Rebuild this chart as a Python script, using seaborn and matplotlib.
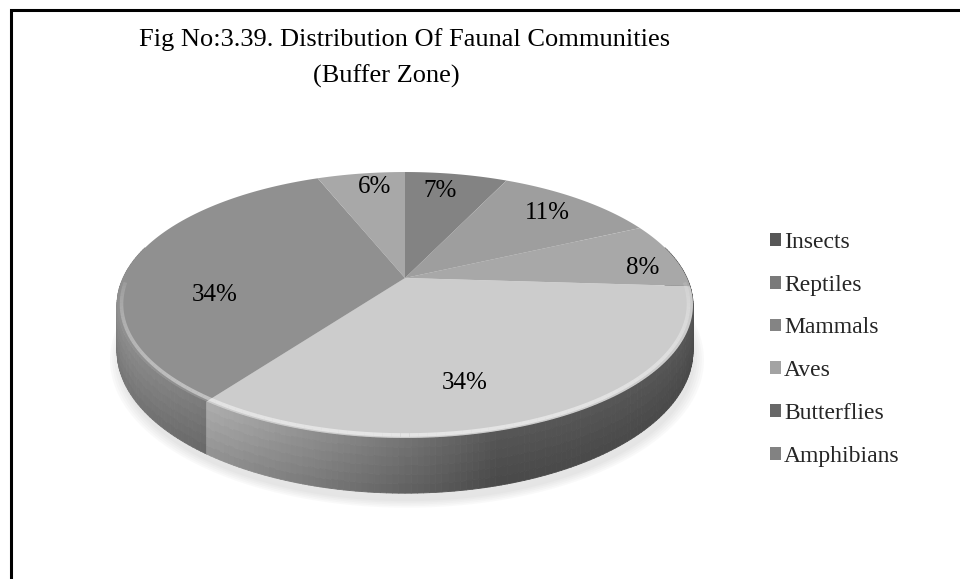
import numpy as np
import matplotlib
matplotlib.use("Agg")
import matplotlib.pyplot as plt
import matplotlib.colors as mcolors
import seaborn as sns
from matplotlib.transforms import Transform
from matplotlib.path import Path
from matplotlib.patches import Patch
from matplotlib.collections import PolyCollection, LineCollection

# ---- data -------------------------------------------------------------
categories = ["Insects", "Reptiles", "Mammals", "Aves", "Butterflies", "Amphibians"]
shares = [7, 11, 8, 34, 34, 6]
pct_labels = [f"{s}%" for s in shares]

# ---- styling ----------------------------------------------------------
top_colors = ["#838383", "#9e9e9e", "#a8a8a8", "#cccccc", "#909090", "#a8a8a8"]
swatch_colors = ["#575757", "#7a7a7a", "#848484", "#a3a3a3", "#686868", "#828282"]
# label placement: angular nudge (deg, clockwise) and radius on the disc
label_nudge = [-2.3, -0.4, 5.5, 10.9, -18.2, 2.3]
label_radius = [0.81, 0.80, 0.86, 0.73, 0.67, 0.84]

W, H = 960, 579
CX, CY = 405.0, 278.0          # disc centre in pixels
RX, RY, PERSP = 282.0, 127.5, 0.203
THICK = 44.0                   # side wall height


class DiscView(Transform):
    """Tilted, perspective view of the unit pie disc onto pixel coordinates."""
    input_dims = output_dims = 2
    is_separable = False
    has_inverse = False

    def __init__(self, drop=0.0):
        super().__init__()
        self.drop = drop

    def transform_non_affine(self, values):
        v = np.asarray(values, dtype=float).reshape(-1, 2)
        d = 1.0 + PERSP * v[:, 1]
        return np.column_stack([CX + RX * v[:, 0] / d,
                                CY + (-RY * v[:, 1] + self.drop) / d])

    def transform_path_non_affine(self, path):
        pts = [seg(np.linspace(0, 1, 24)) for seg, _ in path.iter_bezier()]
        pts = np.concatenate(pts)
        return Path(self.transform_non_affine(pts), closed=True)


sns.set_theme(style="white")
plt.rcParams["font.family"] = ["Liberation Serif", "DejaVu Serif"]

fig = plt.figure(figsize=(W / 100, H / 100), dpi=100)
ax = fig.add_axes([0, 0, 1, 1])

wedges, _ = ax.pie(shares, colors=top_colors, startangle=90, counterclock=False,
                   radius=1.0, wedgeprops=dict(linewidth=0))

ax.set_aspect("auto")
ax.set_xlim(0, W)
ax.set_ylim(H, 0)
ax.axis("off")

top_view = DiscView(0.0)
for w in wedges:
    w.set_transform(top_view + ax.transData)
    w.set_zorder(3)
    w.set_clip_on(False)

# ---- soft shadow under the disc --------------------------------------
ring = np.linspace(0, 2 * np.pi, 240)
for sc in np.linspace(1.03, 1.0, 5):
    pts = DiscView(THICK + 4).transform(np.column_stack([sc * np.cos(ring), sc * np.sin(ring)]))
    ax.fill(pts[:, 0] + 2, pts[:, 1] + 3, color="#9a9a9a", alpha=0.05, lw=0, zorder=1)

# ---- side wall, shaded by direction of the rim -----------------------
def side_shade(theta_deg):
    phi = (90.0 - theta_deg) % 360.0
    return 0.42 + 0.55 * max(0.0, np.cos(np.radians(phi - 255.0)))

n_bands = 6
band_views = [DiscView(THICK * j / n_bands) for j in range(n_bands + 1)]
band_factor = np.linspace(1.0, 0.86, n_bands)
polys, fcols, depth = [], [], []
for w, base in zip(wedges, top_colors):
    rgb = np.array(mcolors.to_rgb(base))
    angles = np.append(np.arange(w.theta1, w.theta2, 1.0), w.theta2)
    for ta, tb in zip(angles[:-1], angles[1:]):
        tm = np.radians(0.5 * (ta + tb))
        if np.sin(tm) > 0.25:
            continue
        rim = np.array([[np.cos(np.radians(ta)), np.sin(np.radians(ta))],
                        [np.cos(np.radians(tb)), np.sin(np.radians(tb))]])
        s = side_shade(np.degrees(tm))
        for j in range(n_bands):
            up = band_views[j].transform(rim)
            lo = band_views[j + 1].transform(rim)
            polys.append(np.vstack([up, lo[::-1]]))
            fcols.append(np.clip(rgb * s * band_factor[j], 0, 1))
            depth.append(-np.sin(tm))
order = np.argsort(depth)
side = PolyCollection([polys[i] for i in order],
                      facecolors=[fcols[i] for i in order],
                      edgecolors=[fcols[i] for i in order],
                      linewidths=0.6, zorder=2)
ax.add_collection(side)

# ---- bevel highlight along the front rim ------------------------------
hl_t = np.radians(np.linspace(182, 358, 120))
hl_pts = top_view.transform(np.column_stack([0.985 * np.cos(hl_t), 0.985 * np.sin(hl_t)]))
segs = np.stack([hl_pts[:-1], hl_pts[1:]], axis=1)
alph = 0.5 * np.sqrt(np.clip(-np.sin(0.5 * (hl_t[:-1] + hl_t[1:])), 0, 1))
ax.add_collection(LineCollection(segs, colors=[(1, 1, 1, a) for a in alph],
                                 linewidths=2.6, zorder=4))

# ---- percentage labels -----------------------------------------------
for w, txt, nudge, rad in zip(wedges, pct_labels, label_nudge, label_radius):
    th = np.radians(0.5 * (w.theta1 + w.theta2) - nudge)
    px, py = top_view.transform([[rad * np.cos(th), rad * np.sin(th)]])[0]
    ax.text(px, py, txt, ha="center", va="center", fontsize=18, color="black", zorder=6)

# ---- title -----------------------------------------------------------
ax.text(405, 40, "Fig No:3.39. Distribution Of Faunal Communities",
        ha="center", va="center", fontsize=19, color="black")
ax.text(386, 76, "(Buffer Zone)", ha="center", va="center", fontsize=19, color="black")

# ---- legend ----------------------------------------------------------
handles = [Patch(facecolor=c, edgecolor="none") for c in swatch_colors]
ax.legend(handles, categories, loc="upper left",
          bbox_to_anchor=(770 / W, 1 - 232 / H), bbox_transform=ax.transAxes,
          frameon=False, fontsize=17, handlelength=0.45, handleheight=0.45,
          handletextpad=0.15, labelspacing=0.92, borderpad=0, borderaxespad=0)

# ---- chart frame -----------------------------------------------------
ax.plot([10.5, 10.5, W + 5], [H + 5, 9.5, 9.5], color="black", lw=2.2,
        solid_joinstyle="miter", clip_on=True, zorder=7)

fig.savefig("out.png", dpi=100)
